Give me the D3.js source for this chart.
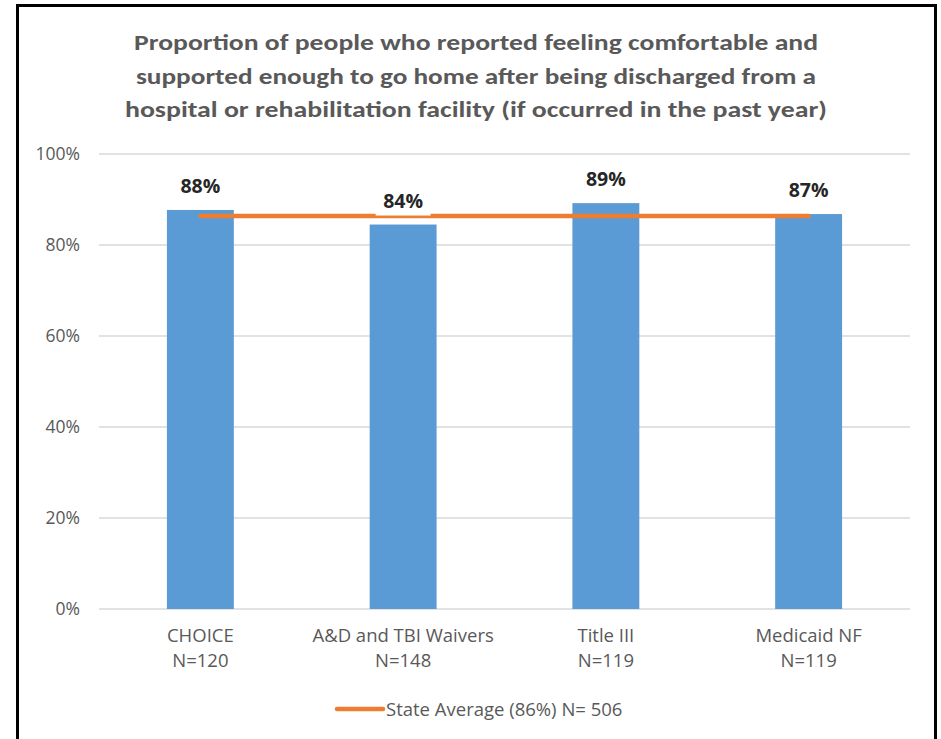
<!DOCTYPE html>
<html>
<head>
<meta charset="utf-8">
<script src="https://cdn.jsdelivr.net/npm/d3@7"></script>
<style>
  body { margin: 0; background: #fff; }
  svg { display: block; }
</style>
</head>
<body>
<svg width="941" height="739"></svg>
<script>
// Chart data
const categories = ["CHOICE", "A&D and TBI Waivers", "Title III", "Medicaid NF"];
const sampleSizes = ["N=120", "N=148", "N=119", "N=119"];
const values = [0.877, 0.845, 0.892, 0.868];
const valueLabels = ["88%", "84%", "89%", "87%"];
const stateAverage = 0.864;
const legendLabel = "State Average (86%) N= 506";
const yTicks = [0, 0.2, 0.4, 0.6, 0.8, 1.0];
const titleLines = [
    "Proportion of people who reported feeling comfortable and",
    "supported enough to go home after being discharged from a",
    "hospital or rehabilitation facility (if occurred in the past year)"
];

const titleFont = "Carlito, 'Liberation Sans Narrow', 'Open Sans', sans-serif";
const textFont = "'Open Sans', 'DejaVu Sans', sans-serif";

const margin = { top: 154, right: 31, bottom: 130, left: 99 },
    width = 941 - margin.left - margin.right,
    height = 739 - margin.top - margin.bottom;

const root = d3.select("svg");

// Outer frame (bottom edge is outside the picture)
root.append("path")
    .attr("d", "M17.5,760 L17.5,5.5 L935.5,5.5 L935.5,760")
    .attr("fill", "none")
    .attr("stroke", "#000")
    .attr("stroke-width", 3);

// Title
root.append("g")
    .selectAll("text")
    .data(titleLines)
    .join("text")
    .attr("x", 476)
    .attr("y", (d, i) => 50 + i * 33.5)
    .attr("text-anchor", "middle")
    .attr("fill", "#595959")
    .style("font-family", titleFont)
    .style("font-size", "22px")
    .style("font-weight", "bold")
    .attr("textLength", (d, i) => [684, 680, 702][i])
    .attr("lengthAdjust", "spacingAndGlyphs")
    .text(d => d);

const svg = root.append("g")
    .attr("transform", `translate(${margin.left},${margin.top})`);

const x = d3.scaleBand()
    .domain(categories)
    .range([0, width])
    .paddingInner(0.67)
    .paddingOuter(0.335);

const y = d3.scaleLinear()
    .domain([0, 1])
    .range([height, 0]);

// Gridlines
svg.append("g")
    .selectAll("line")
    .data(yTicks)
    .join("line")
    .attr("x1", 0)
    .attr("x2", width)
    .attr("y1", d => y(d))
    .attr("y2", d => y(d))
    .attr("stroke", "#d9d9d9")
    .attr("stroke-width", 1.5);

// Y axis labels
const yAxis = svg.append("g")
    .call(d3.axisLeft(y).tickValues(yTicks).tickFormat(d3.format(".0%")).tickSize(0).tickPadding(19));
yAxis.select(".domain").remove();
yAxis.selectAll("text")
    .attr("fill", "#595959")
    .style("font-family", textFont)
    .style("font-size", "17.5px");

// Bars
svg.append("g")
    .selectAll("rect")
    .data(values)
    .join("rect")
    .attr("x", (d, i) => x(categories[i]))
    .attr("y", d => y(d))
    .attr("width", x.bandwidth())
    .attr("height", d => height - y(d))
    .attr("fill", "#5b9bd5");

// State average line
const line = d3.line()
    .x(d => x(d) + x.bandwidth() / 2)
    .y(() => y(stateAverage));

svg.append("path")
    .datum(categories)
    .attr("fill", "none")
    .attr("stroke", "#ed7d31")
    .attr("stroke-width", 4.5)
    .attr("stroke-linecap", "round")
    .attr("d", line);

// Value labels (with white background where they sit on the line)
const labels = svg.append("g")
    .selectAll("g")
    .data(values)
    .join("g")
    .attr("transform", (d, i) => `translate(${x(categories[i]) + x.bandwidth() / 2},${y(d) - 17})`);

labels.append("rect")
    .attr("x", -27.5)
    .attr("y", -20)
    .attr("width", 55)
    .attr("height", 28)
    .attr("fill", (d, i) => i === 1 ? "#fff" : "none");

labels.append("text")
    .attr("text-anchor", "middle")
    .attr("y", 0)
    .attr("fill", "#262626")
    .style("font-family", textFont)
    .style("font-size", "19.5px")
    .style("font-weight", "bold")
    .text((d, i) => valueLabels[i]);

// Category labels
const cats = svg.append("g")
    .selectAll("text")
    .data(categories)
    .join("text")
    .attr("text-anchor", "middle")
    .attr("fill", "#595959")
    .style("font-family", textFont)
    .style("font-size", "18.5px");

cats.append("tspan")
    .attr("x", d => x(d) + x.bandwidth() / 2)
    .attr("y", height + 33)
    .text(d => d);

cats.append("tspan")
    .attr("x", d => x(d) + x.bandwidth() / 2)
    .attr("y", height + 58)
    .text((d, i) => sampleSizes[i]);

// Legend
const legend = root.append("g")
    .attr("transform", "translate(337,709)");

legend.append("line")
    .attr("x1", 0)
    .attr("x2", 46)
    .attr("stroke", "#ed7d31")
    .attr("stroke-width", 4.5)
    .attr("stroke-linecap", "round");

legend.append("text")
    .attr("x", 49)
    .attr("y", 7)
    .attr("fill", "#595959")
    .style("font-family", textFont)
    .style("font-size", "18.5px")
    .text(legendLabel);
</script>
</body>
</html>
